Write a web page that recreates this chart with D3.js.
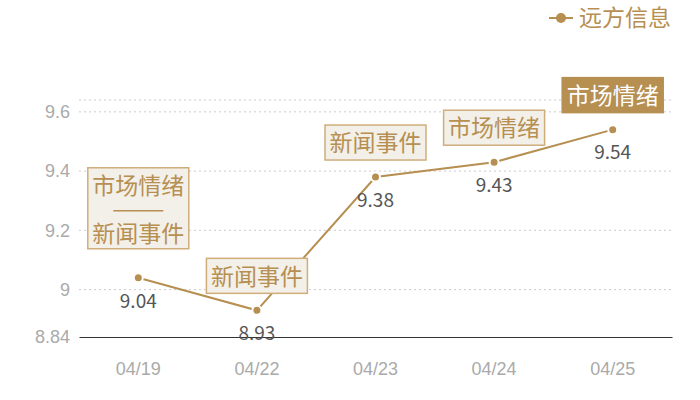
<!DOCTYPE html>
<html>
<head>
<meta charset="utf-8">
<script src="https://cdn.jsdelivr.net/npm/d3@7"></script>
<style>
  body { margin: 0; background: #fff; }
  svg { font-family: "Noto Sans CJK SC", "Noto Sans", sans-serif; }
</style>
</head>
<body>
<div id="chart"></div>
<script>
const dates = ['04/19', '04/22', '04/23', '04/24', '04/25'];
const values = [9.04, 8.93, 9.38, 9.43, 9.54];
const tags = [['市场情绪', '新闻事件'], ['新闻事件'], ['新闻事件'], ['市场情绪'], ['市场情绪']];
const yTicks = [8.84, 9, 9.2, 9.4, 9.6];
const yMax = 9.64;
const seriesName = '远方信息';

const width = 700;
const height = 400;
const margin = {top: 100, right: 28, bottom: 63, left: 79};
const gold = '#b68f51';

const svg = d3.select('#chart')
    .append('svg')
    .attr('width', width)
    .attr('height', height);

const x = d3.scaleBand()
    .domain(dates)
    .range([margin.left, width - margin.right]);

const y = d3.scaleLinear()
    .domain([yTicks[0], yMax])
    .range([height - margin.bottom, margin.top]);

// grid
svg.append('g')
    .selectAll('line')
    .data(yTicks.slice(1).concat([yMax]))
    .join('line')
        .attr('x1', margin.left)
        .attr('x2', width - margin.right)
        .attr('y1', d => y(d))
        .attr('y2', d => y(d))
        .attr('stroke', '#ccc')
        .attr('stroke-dasharray', '2,3');

// y axis
svg.append('g')
    .attr('transform', `translate(${margin.left}, 0)`)
    .call(d3.axisLeft(y).tickValues(yTicks).tickSize(0).tickPadding(9).tickFormat(d => d))
    .call(g => g.select('.domain').remove())
    .call(g => g.selectAll('text').attr('fill', '#aaa').attr('font-size', 18).attr('font-family', 'inherit'));

// x axis
svg.append('g')
    .attr('transform', `translate(0, ${y(yTicks[0])})`)
    .call(d3.axisBottom(x).tickSize(0).tickPadding(25))
    .call(g => g.select('.domain').attr('stroke', '#333'))
    .call(g => g.selectAll('text').attr('fill', '#aaa').attr('font-size', 18).attr('font-family', 'inherit'));

const pts = dates.map((d, i) => ({date: d, value: values[i], tag: tags[i], last: i === dates.length - 1}));
const cx = d => x(d.date) + x.bandwidth() / 2;

// line
svg.append('path')
    .datum(pts)
    .attr('fill', 'none')
    .attr('stroke', gold)
    .attr('stroke-width', 2)
    .attr('d', d3.line().x(cx).y(d => y(d.value)));

svg.append('g')
    .selectAll('circle')
    .data(pts)
    .join('circle')
        .attr('cx', cx)
        .attr('cy', d => y(d.value))
        .attr('r', 4.5)
        .attr('fill', gold)
        .attr('stroke', '#fff')
        .attr('stroke-width', 2);

// value labels
svg.append('g')
    .selectAll('text')
    .data(pts)
    .join('text')
        .attr('x', cx)
        .attr('y', d => y(d.value) + 23)
        .attr('dy', '0.36em')
        .attr('text-anchor', 'middle')
        .attr('fill', '#555')
        .attr('font-size', 19)
        .text(d => d.value);

// annotation boxes
const boxW = 101;
const lineH = 48;
const tagG = svg.append('g')
    .selectAll('g')
    .data(pts)
    .join('g');

tagG.each(function(d) {
    const g = d3.select(this);
    const n = d.tag.length;
    const h = n > 1 ? 81 : 35;
    const bottom = y(d.value) - (n > 1 ? 29 : 17);
    const top = bottom - h;
    const left = cx(d) - boxW / 2;
    g.append('rect')
        .attr('x', left)
        .attr('y', top)
        .attr('width', boxW)
        .attr('height', h)
        .attr('fill', d.last ? gold : '#f3efe9')
        .attr('stroke', d.last ? gold : '#cfae7c')
        .attr('stroke-width', 1.5);
    d.tag.forEach((t, k) => {
        g.append('text')
            .attr('x', cx(d))
            .attr('y', top + 18 + k * lineH)
            .attr('dy', '0.36em')
            .attr('text-anchor', 'middle')
            .attr('fill', d.last ? '#fff' : gold)
            .attr('font-size', 23)
            .text(t);
    });
    if (n > 1) {
        g.append('line')
            .attr('x1', cx(d) - 25)
            .attr('x2', cx(d) + 25)
            .attr('y1', top + 43)
            .attr('y2', top + 43)
            .attr('stroke', gold)
            .attr('stroke-width', 1.5);
    }
});

// legend
const lg = svg.append('g').attr('transform', 'translate(549, 18)');
lg.append('line').attr('x1', 0).attr('x2', 24).attr('stroke', gold).attr('stroke-width', 2);
lg.append('circle').attr('cx', 12).attr('r', 5).attr('fill', gold);
lg.append('text')
    .attr('x', 30)
    .attr('dy', '0.36em')
    .attr('fill', gold)
    .attr('font-size', 23)
    .text(seriesName);
</script>
</body>
</html>
